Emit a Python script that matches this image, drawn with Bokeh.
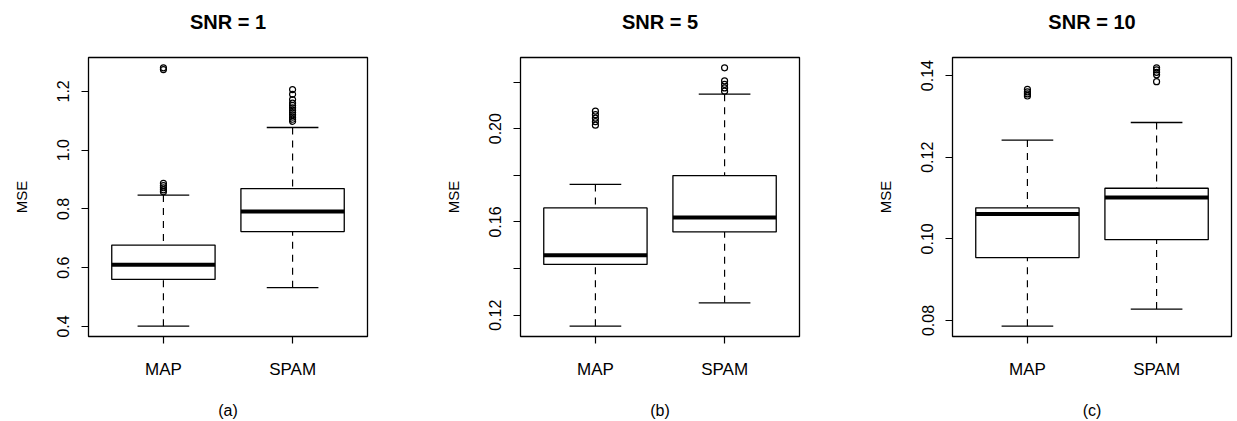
from bokeh.plotting import figure
from bokeh.layouts import row
from bokeh.models import ColumnDataSource, FixedTicker, Range1d, Title
from bokeh.embed import file_html
from bokeh.resources import INLINE

# ---------------- data ----------------
categories = ["MAP", "SPAM"]
titles = ["SNR = 1", "SNR = 5", "SNR = 10"]
captions = ["(a)", "(b)", "(c)"]
y_label = "MSE"

# five-number summaries per panel: [MAP, SPAM]
snr1_lower = [0.401, 0.532]
snr1_q1 = [0.560, 0.723]
snr1_median = [0.610, 0.791]
snr1_q3 = [0.677, 0.869]
snr1_upper = [0.847, 1.077]
snr1_out_map = [0.858, 0.865, 0.872, 0.879, 0.887, 1.274, 1.280]
snr1_out_spam = [1.098, 1.105, 1.112, 1.120, 1.128, 1.136, 1.144, 1.152, 1.160, 1.172, 1.190, 1.206]

snr5_lower = [0.1153, 0.1253]
snr5_q1 = [0.1418, 0.1557]
snr5_median = [0.1457, 0.1619]
snr5_q3 = [0.1660, 0.1799]
snr5_upper = [0.1761, 0.2148]
snr5_out_map = [0.2015, 0.2030, 0.2045, 0.2060, 0.2075]
snr5_out_spam = [0.2161, 0.2175, 0.2190, 0.2205, 0.2261]

snr10_lower = [0.0786, 0.0828]
snr10_q1 = [0.0954, 0.0998]
snr10_median = [0.1061, 0.1101]
snr10_q3 = [0.1076, 0.1124]
snr10_upper = [0.1242, 0.1285]
snr10_out_map = [0.1350, 0.1355, 0.1360, 0.1366]
snr10_out_spam = [0.1385, 0.1402, 0.1408, 0.1414, 0.1419]

snr1_ticks = [0.4, 0.6, 0.8, 1.0, 1.2]
snr1_tick_labels = ["0.4", "0.6", "0.8", "1.0", "1.2"]
snr5_ticks = [0.12, 0.14, 0.16, 0.18, 0.20, 0.22]
snr5_tick_labels = ["0.12", "", "0.16", "", "0.20", ""]
snr10_ticks = [0.08, 0.10, 0.12, 0.14]
snr10_tick_labels = ["0.08", "0.10", "0.12", "0.14"]

panels = [
    dict(title=titles[0], caption=captions[0], lower=snr1_lower, q1=snr1_q1, med=snr1_median,
         q3=snr1_q3, upper=snr1_upper, outs=[snr1_out_map, snr1_out_spam],
         ticks=snr1_ticks, labels=snr1_tick_labels),
    dict(title=titles[1], caption=captions[1], lower=snr5_lower, q1=snr5_q1, med=snr5_median,
         q3=snr5_q3, upper=snr5_upper, outs=[snr5_out_map, snr5_out_spam],
         ticks=snr5_ticks, labels=snr5_tick_labels),
    dict(title=titles[2], caption=captions[2], lower=snr10_lower, q1=snr10_q1, med=snr10_median,
         q3=snr10_q3, upper=snr10_upper, outs=[snr10_out_map, snr10_out_spam],
         ticks=snr10_ticks, labels=snr10_tick_labels),
]

FONT = "Liberation Sans"
BOXW = 0.8
STAPLE = 0.4


def make_panel(d, width, left_border, right_border):
    xs = list(range(1, len(categories) + 1))
    all_vals = d["lower"] + d["upper"] + [v for o in d["outs"] for v in o]
    lo, hi = min(all_vals), max(all_vals)
    pad = (hi - lo) * 0.04
    p = figure(width=width, height=421, output_backend="svg", toolbar_location=None,
               title=None,
               x_range=Range1d(0.5 - 0.08, len(categories) + 0.5 + 0.08),
               y_range=Range1d(lo - pad, hi + pad),
               min_border_left=left_border, min_border_right=right_border,
               min_border_top=57, min_border_bottom=85)
    p.grid.visible = False
    p.outline_line_color = "black"
    p.outline_line_width = 1.3
    p.background_fill_color = "white"
    p.border_fill_color = "white"

    # spacer between frame and title, then the title itself
    p.add_layout(Title(text=" ", text_font_size="16px", standoff=4), "above")
    p.add_layout(Title(text=d["title"], align="center", text_font=FONT, text_font_size="20px",
                       text_font_style="bold", text_color="black", standoff=4), "above")

    src = ColumnDataSource(dict(
        x=xs,
        left=[x - BOXW / 2 for x in xs], right=[x + BOXW / 2 for x in xs],
        sl=[x - STAPLE / 2 for x in xs], sr=[x + STAPLE / 2 for x in xs],
        lower=d["lower"], q1=d["q1"], med=d["med"], q3=d["q3"], upper=d["upper"]))

    # whiskers (dashed), drawn from whisker end to hinge
    p.segment(x0="x", y0="lower", x1="x", y1="q1", source=src, line_color="black",
              line_width=1.2, line_dash="7 6")
    p.segment(x0="x", y0="upper", x1="x", y1="q3", source=src, line_color="black",
              line_width=1.2, line_dash="7 6")
    # staples
    p.segment(x0="sl", y0="lower", x1="sr", y1="lower", source=src, line_color="black", line_width=1.3)
    p.segment(x0="sl", y0="upper", x1="sr", y1="upper", source=src, line_color="black", line_width=1.3)
    # boxes
    p.quad(left="left", right="right", bottom="q1", top="q3", source=src,
           fill_color="white", line_color="black", line_width=1.3)
    # medians
    p.segment(x0="left", y0="med", x1="right", y1="med", source=src, line_color="black", line_width=4)

    # outliers
    ox, oy = [], []
    for x, o in zip(xs, d["outs"]):
        ox += [x] * len(o)
        oy += o
    p.scatter(x=ox, y=oy, size=6, marker="circle", fill_color=None, line_color="black", line_width=1.2)

    # axes
    for ax in (p.xaxis[0], p.yaxis[0]):
        ax.axis_line_color = None
        ax.major_tick_out = 7
        ax.major_tick_in = 0
        ax.minor_tick_line_color = None
        ax.major_tick_line_color = "black"
        ax.major_tick_line_width = 1.2
        ax.major_label_text_font = FONT
        ax.major_label_text_color = "black"
        ax.axis_label_text_font = FONT
        ax.axis_label_text_font_size = "15px"
        ax.axis_label_text_font_style = "normal"
        ax.axis_label_text_color = "black"

    p.xaxis.ticker = FixedTicker(ticks=xs)
    p.xaxis.major_label_overrides = {x: c for x, c in zip(xs, categories)}
    p.xaxis.major_label_text_font_size = "17px"
    p.xaxis.major_label_standoff = 16
    p.xaxis.axis_label = d["caption"]
    p.xaxis.axis_label_text_font_size = "16px"
    p.xaxis.axis_label_standoff = 20

    p.yaxis.ticker = FixedTicker(ticks=d["ticks"])
    p.yaxis.major_label_overrides = {t: l for t, l in zip(d["ticks"], d["labels"])}
    p.yaxis.major_label_text_font_size = "16px"
    p.yaxis.major_label_orientation = "vertical"
    p.yaxis.major_label_standoff = 12
    p.yaxis.axis_label = y_label
    p.yaxis.axis_label_standoff = 25
    return p


p1 = make_panel(panels[0], 440, 88, 73)
p2 = make_panel(panels[1], 432, 80, 73)
p3 = make_panel(panels[2], 361, 80, 2)
layout = row(p1, p2, p3)

open("out.html", "w").write(file_html(layout, INLINE))
